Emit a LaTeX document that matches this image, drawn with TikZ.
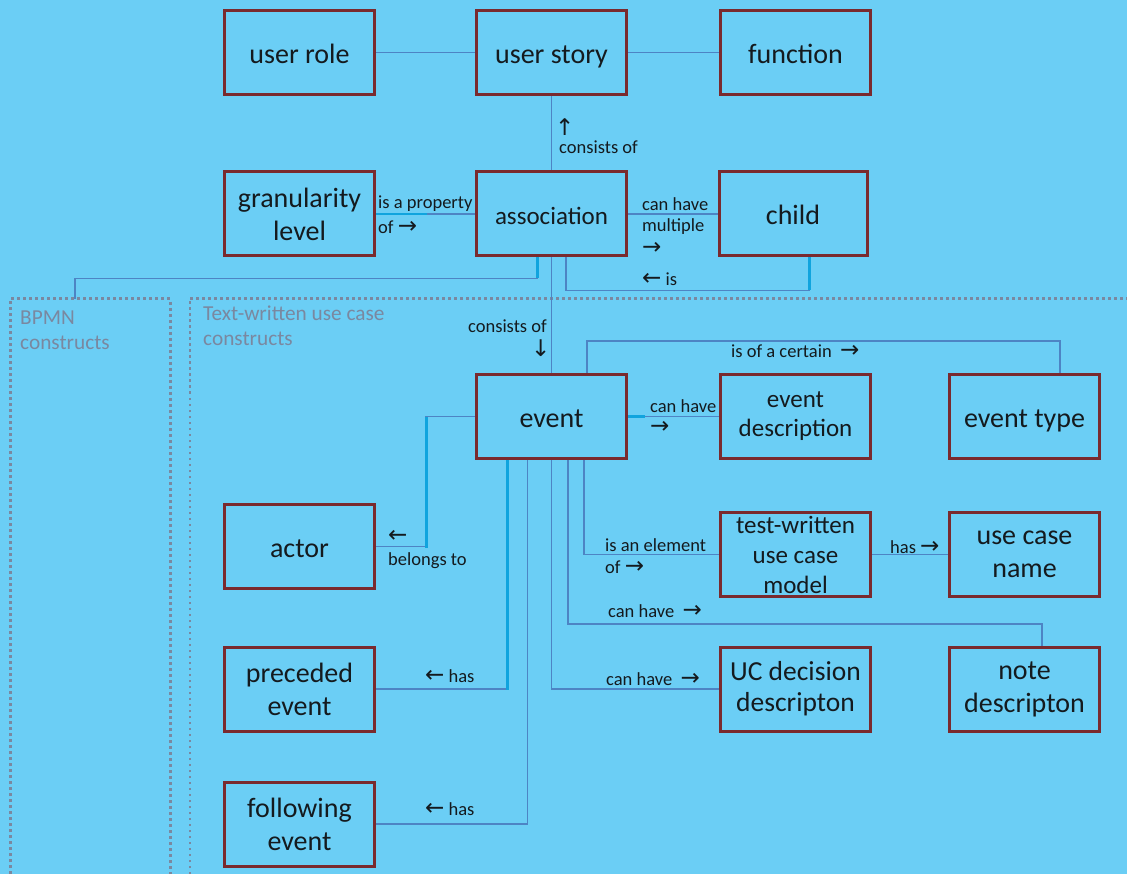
\documentclass[tikz,border=0pt]{standalone}
\usepackage{fontspec}
\setmainfont{Carlito}
\newfontfamily\arrfont{DejaVu Sans}
\usetikzlibrary{calc}

\definecolor{bgblue}{HTML}{6BCEF5}
\definecolor{boxred}{HTML}{7A2A2E}
\definecolor{linkblue}{HTML}{4D84C4}
\definecolor{brightblue}{HTML}{10A4DE}
\definecolor{groupgray}{HTML}{7A88A0}
\definecolor{inktext}{HTML}{141A1E}

\newcommand{\ra}{{\arrfont\fontsize{23}{20}\selectfont →}}
\newcommand{\la}{{\arrfont\fontsize{23}{20}\selectfont ←}}
\newcommand{\ua}{{\arrfont\fontsize{23}{20}\selectfont ↑}}
\newcommand{\da}{{\arrfont\fontsize{23}{20}\selectfont ↓}}

\tikzset{
  box/.style={draw=boxred, line width=3pt, fill=bgblue, minimum width=150pt,
    minimum height=84pt, align=center, text=inktext,
    font=\fontsize{28}{33}\selectfont, inner sep=2pt},
  oneline/.style={text height=25pt, text depth=3pt},
  smallbox/.style={box, font=\fontsize{25}{29}\selectfont},
  conn/.style={draw=linkblue, line width=1.6pt},
  hilite/.style={draw=brightblue, line width=3pt},
  lbl/.style={anchor=west, inner sep=0pt, text=inktext,
    font=\fontsize{18.5}{21}\selectfont},
  grouplbl/.style={anchor=north west, inner sep=0pt, text=groupgray,
    align=left, font=\fontsize{21.3}{25}\selectfont},
  groupline/.style={draw=groupgray, line width=3pt, dash pattern=on 3pt off 3pt},
  groupthin/.style={draw=groupgray, line width=2pt, dash pattern=on 2.5pt off 3.5pt}
}

\begin{document}
\begin{tikzpicture}[x=1pt, y=-1pt]
  \useasboundingbox (0,0) rectangle (1127,874);
  \fill[bgblue] (0,0) rectangle (1127,874);

  % construct groups (dotted frames running off the page)
  \draw[groupline] (10,880) -- (10,299) -- (170,299) -- (170,880);
  \draw[groupline] (190,299) -- (1132,299);
  \draw[groupthin] (190,880) -- (190,299);
  \node[grouplbl] (bpmnlbl) at (20,311) {BPMN\\constructs};
  \node[grouplbl] (uclbl) at (203,306) {Text-written use case\\constructs};
  \coordinate (bpmntop) at (75,299);

  % concept boxes
  \node[box, oneline] (role)   at (299.5,52.5)  {user role};
  \node[box, oneline] (story)  at (551.5,52.5)  {user story};
  \node[box, oneline] (func)   at (795.5,52.5)  {function};
  \node[box] (gran)   at (299.5,214)   {granularity\\level};
  \node[smallbox, oneline] (assoc)  at (551.5,214)   {association};
  \node[box, oneline, minimum width=148pt] (child) at (793,214) {child};
  \node[box, oneline] (event)  at (551.5,416.5) {event};
  \node[smallbox] (evdesc) at (795.5,416.5) {event\\description};
  \node[box, oneline] (evtype) at (1024.5,416.5) {event type};
  \node[box, oneline] (actor)  at (299.5,546.5) {actor};
  \node[box, font=\fontsize{25}{30}\selectfont] (model) at (795.5,554.5) {test-written\\use case\\model};
  \node[box] (ucname) at (1024.5,554.5) {use case\\name};
  \node[box] (prec)   at (299.5,689)   {preceded\\event};
  \node[box, font=\fontsize{27.5}{31}\selectfont] (ucdec) at (795.5,689) {UC decision\\descripton};
  \node[box] (note)   at (1024.5,689)  {note\\descripton};
  \node[box] (follow) at (299.5,824)   {following\\event};

  % top row
  \draw[conn] (role.east) -- (story.west);
  \draw[conn] (story.east) -- (func.west);
  \draw[conn] (story.south) -- (assoc.north);
  \node[lbl] (l1a) at (555,127) {\ua};
  \node[lbl] (l1b) at (559,147) {consists of};

  % association row
  \draw[conn] (gran.east) -- (assoc.west);
  \draw[hilite, line width=2pt] (gran.east) -- ++(51,0);
  \node[lbl] (l2a) at (378,204) {is a property};
  \node[lbl] (l2b) at (378,227) {of \ra};

  \draw[conn] (assoc.east) -- (child.west);
  \node[lbl] (l3a) at (642,204) {can have};
  \node[lbl] (l3b) at (642,227) {multiple};
  \node[lbl] (l3c) at (642,248) {\ra};

  \draw[conn] ([xshift=14.5pt]assoc.south) |- ++(0,33) -| ([xshift=16pt]child.south);
  \draw[hilite] ([xshift=16pt]child.south) -- ++(0,33);
  \node[lbl] (l4) at (642,279) {\la\ is};

  \draw[conn] ([xshift=-14.5pt]assoc.south) |- ++(-462,21) -- (bpmntop);
  \draw[hilite] ([xshift=-14.5pt]assoc.south) -- ++(0,21);

  \draw[conn] (assoc.south) -- (event.north);
  \node[lbl, anchor=east] (l5a) at (547,326) {consists of};
  \node[lbl] (l5b) at (531,348) {\da};

  % event connectors
  \draw[conn] ([xshift=35.5pt]event.north) |- ++(0,-32) -| ([xshift=35.5pt]evtype.north);
  \node[lbl] (l6) at (731,351) {is of a certain\ \ \ra};

  \draw[conn] (event.east) -- (evdesc.west);
  \draw[hilite] (event.east) -- ++(17,0);
  \node[lbl] (l7a) at (650,406) {can have};
  \node[lbl] (l7b) at (650,427) {\ra};

  \draw[conn] (event.west) -- ++(-49,0) |- (actor.east);
  \draw[hilite] ([xshift=-49pt]event.west) -- ++(0,131.5);
  \node[lbl] (l8a) at (388,536) {\la};
  \node[lbl] (l8b) at (388,561) {belongs to};

  \draw[conn] ([xshift=32.5pt]event.south) |- (model.west);
  \node[lbl] (l9a) at (605,545) {is an element};
  \node[lbl] (l9b) at (605,567) {of \ra};

  \draw[conn] (model.east) -- (ucname.west);
  \node[lbl] (l10) at (890,547) {has \ra};

  \draw[conn] ([xshift=16.5pt]event.south) |- ++(0,164) -| ([xshift=17.5pt]note.north);
  \node[lbl] (l11) at (608,611) {can have\ \ \ra};

  \draw[conn] (event.south) |- (ucdec.west);
  \node[lbl] (l12) at (606,679) {can have\ \ \ra};

  \draw[conn] ([xshift=-44.5pt]event.south) |- (prec.east);
  \draw[hilite] ([xshift=-44.5pt]event.south) -- ++(0,230);
  \node[lbl] (l13) at (425,676) {\la\ has};

  \draw[conn] ([xshift=-24pt]event.south) |- (follow.east);
  \node[lbl] (l14) at (425,809) {\la\ has};
\end{tikzpicture}
\end{document}
